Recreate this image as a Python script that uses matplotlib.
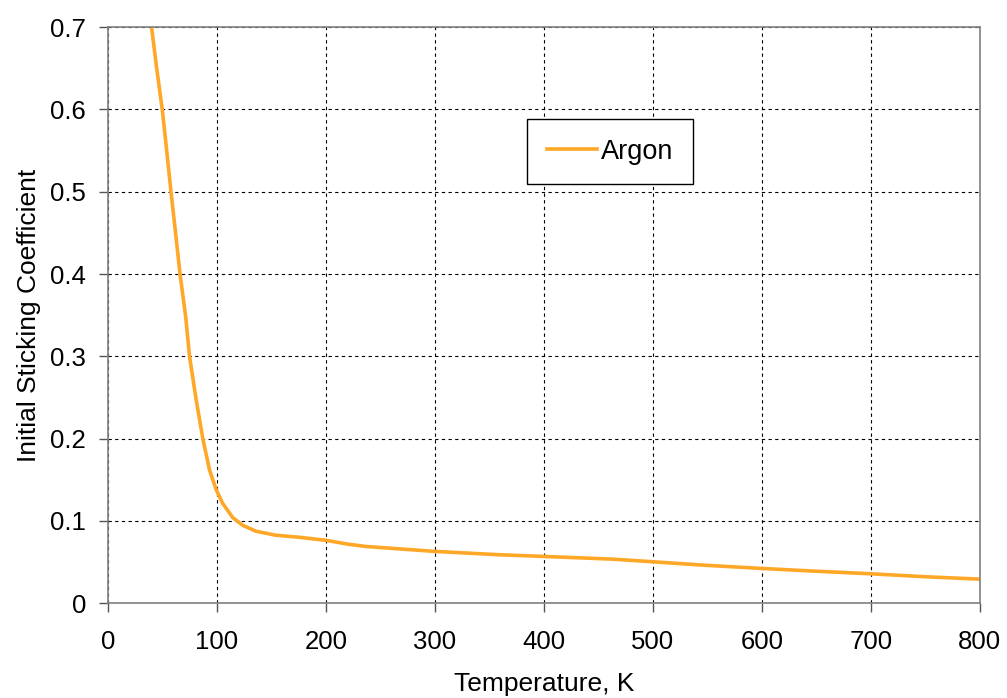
import numpy as np
import matplotlib.pyplot as plt

plt.rcParams['font.family'] = ['Liberation Sans', 'DejaVu Sans']

# Argon sticking coefficient vs. temperature
temperature = [40.2, 44.8, 50, 54, 58, 62.3, 66.3, 71.5, 75, 81, 87.2, 93.3,
               99.4, 105.5, 114.6, 123.8, 136, 154, 175.6, 200, 221, 237,
               300, 360, 400, 463, 500, 545, 600, 647, 700, 750, 800]
sticking = [0.70, 0.651, 0.60, 0.551, 0.50, 0.449, 0.40, 0.348, 0.30, 0.248,
            0.20, 0.162, 0.138, 0.121, 0.104, 0.0945, 0.0873, 0.0825, 0.080,
            0.0763, 0.0715, 0.0688, 0.0628, 0.0587, 0.0567, 0.0534, 0.0502,
            0.0462, 0.0421, 0.0389, 0.0356, 0.032, 0.0291]

x_ticks = np.arange(0, 801, 100)
y_ticks = np.arange(0, 0.71, 0.1)
y_labels = ['0', '0.1', '0.2', '0.3', '0.4', '0.5', '0.6', '0.7']

fig = plt.figure(figsize=(10.07, 6.98), dpi=100)
ax = fig.add_axes([0.107, 0.136, 0.866, 0.825])

ax.plot(temperature, sticking, color='#FFA726', linewidth=2.6, label='Argon')

ax.set_xlim(0, 800)
ax.set_ylim(0, 0.7)
ax.set_xticks(x_ticks)
ax.set_yticks(y_ticks)
ax.set_yticklabels(y_labels)
ax.tick_params(labelsize=18.5, direction='out', length=6.5, width=1, color='#555555')
ax.tick_params(axis='x', pad=13)
ax.tick_params(axis='y', pad=9)
ax.grid(True, color='black', linestyle=(0, (3, 3)), linewidth=0.8)
for s in ax.spines.values():
    s.set_color('#808080')
    s.set_linewidth(1.2)

ax.set_xlabel('Temperature, K', fontsize=19, labelpad=13)
ax.set_ylabel('Initial Sticking Coefficient', fontsize=19, labelpad=7)

leg = ax.legend(loc='upper left', bbox_to_anchor=(0.481, 0.84), fontsize=19.5,
                frameon=True, fancybox=False, handlelength=1.85, borderpad=0.72,
                handletextpad=0.15, borderaxespad=0)
leg.get_frame().set_edgecolor('black')
leg.get_frame().set_linewidth(1)
leg.get_frame().set_alpha(1)

fig.savefig('out.png', dpi=100)
